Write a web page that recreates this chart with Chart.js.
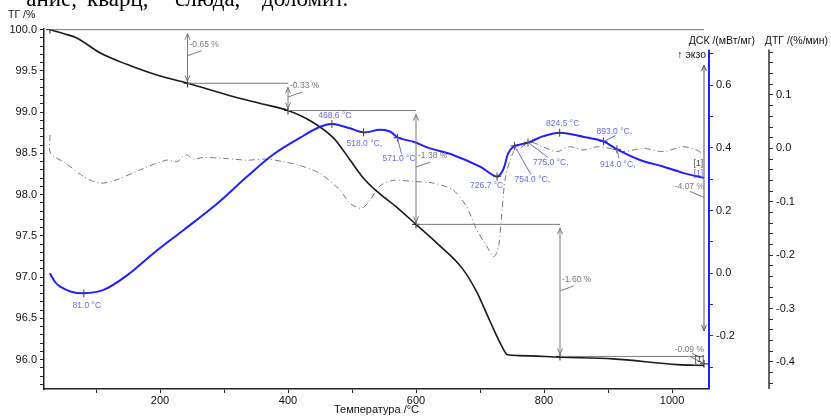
<!DOCTYPE html>
<html>
<head>
<meta charset="utf-8">
<script src="https://cdn.jsdelivr.net/npm/chart.js@4.4.1/dist/chart.umd.min.js"></script>
<style>
  html, body { margin: 0; padding: 0; background: #fff; }
  #wrap { width: 831px; height: 416px; }
</style>
</head>
<body>
<div id="wrap"><canvas id="chart" width="831" height="416"></canvas></div>
<script>
// TG curve (mass, %)
const tgTemp = [28, 50, 70, 106, 148, 195, 243, 314, 360, 400, 436, 472, 497, 518, 539, 571, 600, 633, 672, 695, 716, 733, 743, 760, 827, 908, 1009, 1050];
const tgMass = [100.0, 99.95, 99.9, 99.72, 99.58, 99.45, 99.35, 99.19, 99.1, 99.02, 98.89, 98.68, 98.42, 98.2, 98.04, 97.84, 97.64, 97.41, 97.11, 96.82, 96.46, 96.18, 96.06, 96.05, 96.03, 96.01, 95.94, 95.93];

// DSC curve (mW/mg)
const dscTemp = [28, 36, 44, 60, 81, 112, 149, 190, 237, 290, 336, 378, 419, 450, 469, 497, 518, 544, 560, 572, 596, 622, 658, 700, 726, 736, 744, 752, 762, 776, 799, 825, 861, 893, 914, 950, 986, 1017, 1050];
const dscHeat = [0.0, -0.028, -0.043, -0.058, -0.064, -0.053, -0.006, 0.064, 0.138, 0.223, 0.308, 0.38, 0.432, 0.467, 0.476, 0.462, 0.449, 0.457, 0.451, 0.432, 0.419, 0.398, 0.377, 0.34, 0.308, 0.329, 0.382, 0.403, 0.41, 0.417, 0.437, 0.448, 0.435, 0.42, 0.395, 0.361, 0.34, 0.32, 0.304];

// DTG curve (%/min)
const dtgTemp = [28, 29, 53, 81, 106, 132, 169, 210, 226, 241, 252, 267, 304, 336, 367, 393, 419, 450, 481, 497, 515, 528, 544, 565, 596, 627, 658, 679, 695, 711, 721.5, 729, 734.5, 740, 752.5, 762.5, 778, 798, 820, 840, 861, 883, 903, 923, 955, 986, 1017, 1039, 1048];
const dtgRate = [0.025, -0.009, -0.028, -0.053, -0.065, -0.059, -0.04, -0.022, -0.025, -0.012, -0.02, -0.017, -0.019, -0.022, -0.02, -0.025, -0.032, -0.047, -0.078, -0.103, -0.112, -0.097, -0.07, -0.06, -0.062, -0.065, -0.078, -0.109, -0.153, -0.184, -0.203, -0.184, -0.115, -0.053, -0.006, 0.0, 0.012, 0.003, -0.006, 0.003, -0.003, 0.003, 0.0, -0.006, 0.0, -0.006, 0.003, -0.003, -0.011];

// DSC peaks
const dscPeakT = [81.0, 468.6, 518.0, 571.0, 726.7, 754.0, 775.0, 824.5, 893.0, 914.0];
const dscPeakV = [-0.064, 0.476, 0.449, 0.432, 0.308, 0.406, 0.417, 0.448, 0.42, 0.395];
const dscPeakText = ['81.0 °C', '468.6 °C', '518.0 °C,', '571.0 °C', '726.7 °C', '754.0 °C,', '775.0 °C,', '824.5 °C', '893.0 °C,', '914.0 °C,'];

// TG mass-loss steps
const tgStart = 100.0;
const stepT = [243, 400, 600, 825, 1050];
const stepMass = [99.35, 99.02, 97.64, 96.04, 95.95];
const stepText = ['-0.65 %', '-0.33 %', '-1.38 %', '-1.60 %', '-0.09 %'];
const totalText = '-4.07 %';

// cut-off line of the caption above the figure (justified words)
const headWords = ['ание,', 'кварц,', 'слюда,', 'доломит.'];

const BLUE = '#1f1fff';
const LABEL_BLUE = '#6a6af0';
const GREY = '#7a7a7a';
const FONT = '"Liberation Sans", Arial, sans-serif';

const pts = (xs, ys) => xs.map((x, i) => ({ x, y: ys[i] }));

const isMult = (v, step) => Math.abs(v / step - Math.round(v / step)) < 1e-6;

function arrowHead(ctx, x, y, dir) {
  ctx.beginPath();
  ctx.moveTo(x - 2.5, y - dir * 6);
  ctx.lineTo(x, y);
  ctx.lineTo(x + 2.5, y - dir * 6);
  ctx.stroke();
}

function vArrow(ctx, x, y1, y2) {
  ctx.beginPath();
  ctx.moveTo(x, y1);
  ctx.lineTo(x, y2);
  ctx.stroke();
  arrowHead(ctx, x, y1, -1);
  arrowHead(ctx, x, y2, 1);
}

function line(ctx, x1, y1, x2, y2) {
  ctx.beginPath();
  ctx.moveTo(x1, y1);
  ctx.lineTo(x2, y2);
  ctx.stroke();
}

// where each blue peak label sits relative to its cross (dx, dy, align, leader end)
const peakLabelPos = [
  [3, 12, 'center', null],
  [3, -8, 'center', null],
  [-17, 11, 'left', null],
  [-15, 21, 'left', [4, 16]],
  [-27, 9, 'left', null],
  [0, 34, 'left', [16, 28]],
  [5, 20, 'left', [20, 15]],
  [3, -9, 'center', null],
  [-7, -10, 'left', [12, -6]],
  [-17, 15, 'left', [2, 9]]
];
const stepLabelFrac = [0.28, 0.1, 0.4, 0.42];
const headWordX = [77, 87, 175, 262];

const annotate = {
  id: 'annotate',
  afterDatasetsDraw(chart) {
    const { ctx, scales } = chart;
    const x = scales.x, tg = scales.yTG, dsc = scales.yDSC;
    ctx.save();
    ctx.strokeStyle = GREY;
    ctx.fillStyle = GREY;
    ctx.lineWidth = 1;
    ctx.font = '8.5px ' + FONT;
    ctx.textBaseline = 'middle';

    // level lines
    line(ctx, x.getPixelForValue(tgTemp[0]), tg.getPixelForValue(tgStart),
      x.getPixelForValue(stepT[4]), tg.getPixelForValue(tgStart));
    for (let i = 0; i < 4; i++) {
      const y = tg.getPixelForValue(stepMass[i]);
      line(ctx, x.getPixelForValue(stepT[i]), y, x.getPixelForValue(stepT[i + 1]), y);
    }

    // step arrows + labels
    for (let i = 0; i < 4; i++) {
      const ax = x.getPixelForValue(stepT[i]);
      const yTop = tg.getPixelForValue(i === 0 ? tgStart : stepMass[i - 1]);
      const yBot = tg.getPixelForValue(stepMass[i]);
      vArrow(ctx, ax, yTop + 4, yBot - 2);
      const ly = yTop + stepLabelFrac[i] * (yBot - yTop);
      ctx.textAlign = 'left';
      ctx.fillText(stepText[i], ax + 2, ly);
      line(ctx, ax, ly + 11, ax + 14, ly + 6);
    }

    // last small step + total
    const ex = x.getPixelForValue(stepT[4]);
    const yA = tg.getPixelForValue(stepMass[3]);
    const yB = tg.getPixelForValue(stepMass[4]);
    line(ctx, ex - 14, yA, ex, yB);
    ctx.textAlign = 'right';
    ctx.fillText(stepText[4], ex, yA - 7);
    line(ctx, ex - 12, yA - 3, ex - 3, yA + 1);
    ctx.fillStyle = '#444';
    ctx.fillText('[1]', ex, yB - 4);

    ctx.strokeStyle = '#555';
    vArrow(ctx, ex, tg.getPixelForValue(99.57), tg.getPixelForValue(96.35));
    ctx.fillStyle = GREY;
    const ty = tg.getPixelForValue(98.1);
    ctx.fillText(totalText, ex, ty);
    ctx.strokeStyle = GREY;
    line(ctx, ex - 14, ty + 5, ex, ty + 11);
    ctx.fillStyle = '#444';
    ctx.fillText('[1]', ex - 1, ty - 23);
    ctx.fillStyle = LABEL_BLUE;
    ctx.fillText('[1]', ex - 1, ty - 13);

    // DSC peak labels
    ctx.fillStyle = LABEL_BLUE;
    ctx.strokeStyle = LABEL_BLUE;
    dscPeakT.forEach((t, i) => {
      const px = x.getPixelForValue(t), py = dsc.getPixelForValue(dscPeakV[i]);
      const [dx, dy, align, lead] = peakLabelPos[i];
      ctx.textAlign = align;
      ctx.fillText(dscPeakText[i], px + dx, py + dy);
      if (lead) line(ctx, px, py, px + lead[0], py + lead[1]);
    });
    ctx.restore();
  },
  afterDraw(chart) {
    const { ctx, scales, chartArea } = chart;
    const dsc = scales.yDSC, dtg = scales.yDTG;
    ctx.save();
    // right axis lines
    ctx.strokeStyle = BLUE;
    ctx.lineWidth = 2;
    line(ctx, dsc.left, dsc.getPixelForValue(0.712), dsc.left, chartArea.bottom);
    ctx.strokeStyle = '#333';
    ctx.lineWidth = 1.5;
    line(ctx, dtg.left, dtg.getPixelForValue(0.185), dtg.left, chartArea.bottom);

    // axis titles
    ctx.fillStyle = '#111';
    ctx.textBaseline = 'middle';
    ctx.font = '10.5px ' + FONT;
    ctx.textAlign = 'left';
    ctx.fillText('ТГ /%', 8, 15);
    ctx.textAlign = 'right';
    ctx.fillText('ДСК /(мВт/мг)', dsc.left + 46, 41);
    ctx.fillText('ДТГ /(%/мин)', dtg.left + 59, 41);
    ctx.fillText('↑ экзо', dsc.left - 3, 55);
    ctx.textAlign = 'center';
    ctx.font = '11px ' + FONT;
    ctx.fillText('Температура /°C', (chartArea.left + chartArea.right) / 2, 410);

    // cut-off caption text above the figure
    ctx.font = '23px "Liberation Serif", "Times New Roman", serif';
    ctx.fillStyle = '#000';
    ctx.textBaseline = 'alphabetic';
    headWords.forEach((w, i) => {
      ctx.textAlign = i === 0 ? 'right' : 'left';
      ctx.fillText(w, headWordX[i], 6);
    });
    ctx.restore();
  }
};

const tickFont = { family: FONT, size: 11 };

new Chart(document.getElementById('chart'), {
  type: 'line',
  data: {
    datasets: [
      {
        type: 'scatter', data: pts(dscPeakT, dscPeakV), yAxisID: 'yDSC',
        pointStyle: 'cross', pointRadius: 4, borderColor: '#444', borderWidth: 1, showLine: false
      },
      {
        type: 'scatter', data: pts([tgTemp[0]].concat(stepT), [tgStart].concat(stepMass)), yAxisID: 'yTG',
        pointStyle: 'cross', pointRadius: 4, borderColor: '#222', borderWidth: 1, showLine: false
      },
      {
        label: 'ДСК', data: pts(dscTemp, dscHeat), yAxisID: 'yDSC',
        borderColor: BLUE, borderWidth: 2, pointRadius: 0, tension: 0.35
      },
      {
        label: 'ТГ', data: pts(tgTemp, tgMass), yAxisID: 'yTG',
        borderColor: '#1a1a1a', borderWidth: 1.6, pointRadius: 0, cubicInterpolationMode: 'monotone'
      },
      {
        label: 'ДТГ', data: pts(dtgTemp, dtgRate), yAxisID: 'yDTG',
        borderColor: '#777', borderWidth: 1, borderDash: [6, 3, 1, 3], pointRadius: 0, tension: 0.3
      }
    ]
  },
  options: {
    responsive: false,
    animation: false,
    devicePixelRatio: 1,
    layout: { padding: { top: 29, left: 0, right: 0, bottom: 0 } },
    plugins: { legend: { display: false }, tooltip: { enabled: false } },
    scales: {
      x: {
        type: 'linear', position: 'bottom', min: 18.75, max: 1057.8,
        ticks: {
          stepSize: 100, includeBounds: false, autoSkip: false, maxRotation: 0,
          padding: 1, color: '#111', font: tickFont,
          callback: v => isMult(v, 200) ? String(Math.round(v)) : ''
        },
        grid: { drawOnChartArea: false, tickLength: 4, color: '#222' },
        border: { color: '#222', width: 1.5 },
        afterFit: s => { s.height = 27; }
      },
      yTG: {
        type: 'linear', position: 'left', min: 95.645, max: 100.008,
        ticks: {
          stepSize: 0.1, includeBounds: false, autoSkip: false, padding: 3,
          color: '#111', font: tickFont,
          callback: v => isMult(v, 0.5) ? v.toFixed(1) : ''
        },
        grid: { drawOnChartArea: false, tickLength: 4, color: '#222' },
        border: { color: '#222', width: 1.5 },
        afterFit: s => { s.width = 44; }
      },
      yDSC: {
        type: 'linear', position: 'right', min: -0.369, max: 0.7785,
        ticks: {
          stepSize: 0.1, includeBounds: false, autoSkip: false, padding: 3,
          color: '#111', font: tickFont,
          callback: v => (isMult(v, 0.2) && v < 0.712) ? v.toFixed(1) : ''
        },
        grid: {
          drawOnChartArea: false, tickLength: 4,
          color: c => (c.tick && c.tick.value > 0.712) ? 'rgba(0,0,0,0)' : BLUE
        },
        border: { display: false },
        afterFit: s => { s.width = 60; }
      },
      yDTG: {
        type: 'linear', position: 'right', min: -0.4506, max: 0.2236,
        ticks: {
          stepSize: 0.02, includeBounds: false, autoSkip: false, padding: 3,
          color: '#111', font: tickFont,
          callback: v => (isMult(v, 0.1) && v < 0.186) ? v.toFixed(1) : ''
        },
        grid: {
          drawOnChartArea: false, tickLength: 4,
          color: c => (c.tick && c.tick.value > 0.186) ? 'rgba(0,0,0,0)' : '#333'
        },
        border: { display: false },
        afterFit: s => { s.width = 62; }
      }
    }
  },
  plugins: [annotate]
});
</script>
</body>
</html>
